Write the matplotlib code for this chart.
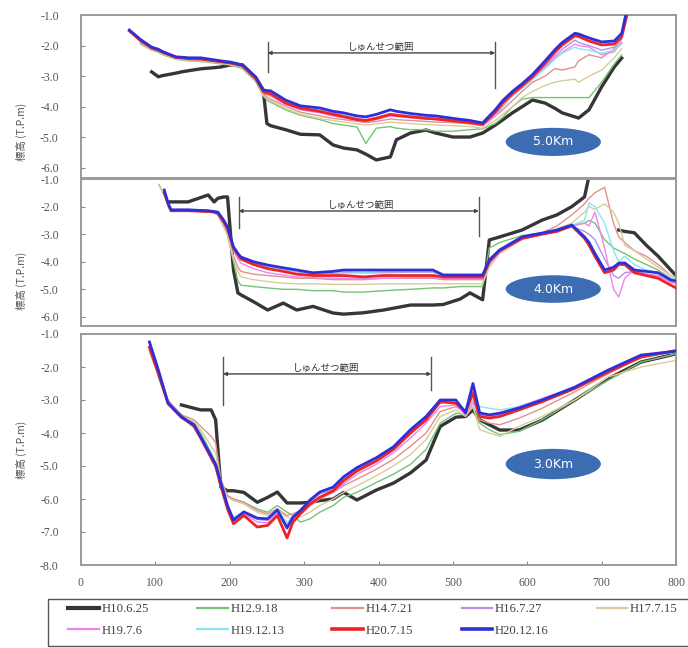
import numpy as np
import matplotlib
matplotlib.use("Agg")
import matplotlib.pyplot as plt
from matplotlib.patches import Ellipse, Rectangle
from matplotlib.lines import Line2D

plt.rcParams['axes.unicode_minus'] = False
nan = np.nan

labels = ['H10.6.25', 'H12.9.18', 'H14.7.21', 'H16.7.27', 'H17.7.15',
          'H19.7.6', 'H19.12.13', 'H20.7.15', 'H20.12.16']
colors = ['#363636', '#77c277', '#e2918a', '#b88fe6', '#d8cc9c',
          '#f084ef', '#86e6f2', '#ee2424', '#2f2fd8']
widths = [2.4, 1.0, 1.0, 1.0, 1.0, 1.0, 1.0, 2.0, 2.0]

# ---- 5.0 km section
x1 = [65, 80, 95, 104, 110, 128, 135, 145, 161, 180, 188, 201, 217, 235, 245, 250, 255, 275, 295, 321,
      339, 353, 371, 383, 397, 416, 424, 443, 464, 477, 500, 523, 540, 557, 567, 580, 593, 607, 624, 637,
      647, 664, 669, 683, 700, 717, 727, 736]
black1 = [nan, nan, -2.86, -3.02, -2.98, -2.90, -2.86, -2.82, -2.76, -2.72,
          -2.70, -2.63, -2.63, -3.05, -3.45, -4.55, -4.62, -4.75, -4.90, -4.92,
          -5.25, -5.35, -5.41, -5.55, -5.74, -5.64, -5.08, -4.86, -4.76, -4.86,
          -4.99, -4.99, -4.86, -4.60, -4.43, -4.20, -4.00, -3.78, -3.88, -4.05,
          -4.20, -4.33, -4.37, -4.10, -3.35, -2.70, -2.41, nan]
green1 = [nan, -1.95, -2.15, -2.22, -2.30, -2.45, -2.47, -2.50, -2.52, -2.57,
          -2.60, -2.64, -2.75, -3.18, -3.65, -3.78, -3.85, -4.10, -4.28, -4.42,
          -4.55, -4.60, -4.66, -5.20, -4.70, -4.65, -4.70, -4.75, -4.75, -4.80,
          -4.80, -4.75, -4.72, -4.55, -4.35, -4.00, -3.75, -3.70, -3.70, -3.70,
          -3.70, -3.70, -3.70, -3.70, -3.20, -2.60, -2.30, nan]
salmon1 = [nan, -1.90, -2.12, -2.18, -2.26, -2.42, -2.44, -2.46, -2.47, -2.53,
           -2.56, -2.60, -2.70, -3.12, -3.58, -3.68, -3.75, -3.98, -4.18, -4.30,
           -4.38, -4.42, -4.48, -4.52, -4.48, -4.40, -4.42, -4.45, -4.48, -4.50,
           -4.52, -4.56, -4.62, -4.30, -4.10, -3.80, -3.50, -3.20, -3.00, -2.75,
           -2.80, -2.70, -2.50, -2.30, -2.40, -2.10, -1.90, nan]
purple1 = [nan, -1.85, -2.07, -2.14, -2.22, -2.38, -2.40, -2.42, -2.43, -2.49,
           -2.52, -2.56, -2.65, -3.05, -3.48, -3.52, -3.55, -3.85, -4.02, -4.12,
           -4.22, -4.28, -4.38, -4.42, -4.35, -4.22, -4.25, -4.30, -4.35, -4.38,
           -4.44, -4.50, -4.56, -4.20, -3.92, -3.62, -3.36, -3.08, -2.68, -2.35,
           -2.12, -1.82, -1.90, -2.00, -2.15, -2.05, -1.80, nan]
tan1 = [nan, -1.92, -2.14, -2.20, -2.28, -2.44, -2.46, -2.48, -2.50, -2.55,
        -2.58, -2.62, -2.72, -3.15, -3.62, -3.72, -3.80, -4.05, -4.25, -4.38,
        -4.45, -4.50, -4.56, -4.60, -4.56, -4.50, -4.52, -4.55, -4.58, -4.60,
        -4.62, -4.65, -4.70, -4.45, -4.25, -4.00, -3.70, -3.50, -3.30, -3.20,
        -3.15, -3.10, -3.20, -3.00, -2.80, -2.40, -2.10, nan]
magenta1 = [nan, -1.88, -2.10, -2.16, -2.24, -2.40, -2.42, -2.44, -2.45, -2.51,
            -2.54, -2.58, -2.68, -3.10, -3.52, -3.60, -3.65, -3.92, -4.10, -4.20,
            -4.30, -4.36, -4.45, -4.50, -4.42, -4.30, -4.32, -4.36, -4.40, -4.42,
            -4.48, -4.55, -4.60, -4.30, -4.00, -3.65, -3.38, -3.10, -2.72, -2.42,
            -2.22, -1.95, -2.00, -2.05, -2.30, -2.20, -1.90, nan]
cyan1 = [nan, -1.83, -2.06, -2.13, -2.21, -2.38, -2.39, -2.41, -2.42, -2.48,
         -2.51, -2.55, -2.64, -3.06, -3.50, -3.56, -3.60, -3.88, -4.06, -4.14,
         -4.24, -4.30, -4.40, -4.44, -4.36, -4.24, -4.26, -4.31, -4.36, -4.39,
         -4.45, -4.51, -4.57, -4.22, -3.95, -3.66, -3.40, -3.12, -2.75, -2.45,
         -2.25, -2.05, -2.10, -2.15, -2.25, -2.15, -1.95, nan]
red1 = [-1.52, -1.84, -2.08, -2.15, -2.22, -2.39, -2.40, -2.43, -2.44, -2.50,
        -2.53, -2.57, -2.66, -3.08, -3.50, -3.55, -3.58, -3.88, -4.05, -4.15,
        -4.25, -4.32, -4.42, -4.45, -4.38, -4.25, -4.28, -4.33, -4.38, -4.40,
        -4.46, -4.52, -4.58, -4.18, -3.88, -3.58, -3.32, -3.02, -2.58, -2.22,
        -1.98, -1.68, -1.70, -1.85, -1.98, -1.95, -1.72, -0.80]
blue1 = [-1.49, -1.80, -2.05, -2.12, -2.20, -2.37, -2.38, -2.40, -2.40, -2.47,
         -2.50, -2.54, -2.63, -3.03, -3.45, -3.47, -3.48, -3.78, -3.97, -4.04,
         -4.15, -4.20, -4.30, -4.33, -4.25, -4.10, -4.15, -4.22, -4.28, -4.30,
         -4.38, -4.45, -4.53, -4.10, -3.80, -3.50, -3.25, -2.95, -2.50, -2.14,
         -1.90, -1.60, -1.62, -1.75, -1.88, -1.85, -1.60, -0.60]

# ---- 4.0 km section
x2 = [105, 112, 117, 121, 144, 171, 179, 184, 192, 197, 205, 211, 215, 232, 251, 272, 290, 312, 339, 353,
      380, 407, 443, 473, 487, 510, 523, 540, 549, 563, 593, 620, 640, 660, 677, 683, 691, 704, 716, 723,
      731, 744, 760, 776, 793, 800]
black2 = [nan, nan, -1.83, -1.83, -1.83, -1.58, -1.83, -1.70, -1.65, -1.65,
          -4.30, -5.13, -5.20, -5.45, -5.75, -5.50, -5.75, -5.62, -5.86, -5.90,
          -5.85, -5.75, -5.57, -5.57, -5.55, -5.35, -5.13, -5.38, -3.21, -3.10,
          -2.85, -2.49, -2.30, -2.00, -1.65, -0.90, nan, nan, nan, -2.85,
          -2.90, -2.95, -3.40, -3.80, -4.30, -4.50]
green2 = [nan, nan, -2.00, -2.15, -2.15, -2.20, -2.20, -2.25, -2.70, -3.00,
          -4.00, -4.70, -4.85, -4.90, -4.95, -5.00, -5.00, -5.05, -5.05, -5.10,
          -5.10, -5.05, -5.00, -4.95, -4.95, -4.90, -4.90, -4.90, -3.50, -3.30,
          -3.05, -2.95, -2.85, -2.70, -2.60, -2.50, -2.60, -3.20, -3.50, -3.60,
          -3.70, -3.90, -4.10, -4.30, -4.60, -4.70]
salmon2 = [-1.20, -1.60, -1.92, -2.10, -2.10, -2.15, -2.20, -2.30, -2.70, -3.00,
           -3.80, -4.20, -4.35, -4.45, -4.50, -4.55, -4.60, -4.60, -4.65, -4.65,
           -4.65, -4.60, -4.60, -4.60, -4.65, -4.65, -4.65, -4.65, -4.10, -3.60,
           -3.15, -2.95, -2.70, -2.30, -1.90, -1.70, -1.50, -1.30, -2.60, -3.10,
           -3.30, -3.60, -3.80, -4.10, -4.50, -4.60]
purple2 = [nan, -1.45, -1.88, -2.13, -2.13, -2.16, -2.19, -2.22, -2.52, -2.77,
           -3.48, -3.72, -3.86, -4.05, -4.18, -4.28, -4.36, -4.45, -4.42, -4.40,
           -4.40, -4.40, -4.38, -4.38, -4.50, -4.50, -4.50, -4.50, -3.96, -3.58,
           -3.12, -2.98, -2.88, -2.72, -2.90, -3.00, -3.20, -3.90, -4.50, -4.60,
           -4.40, -4.35, -4.45, -4.50, -4.75, -4.80]
tan2 = [-1.25, -1.55, -1.95, -2.12, -2.12, -2.18, -2.22, -2.32, -2.75, -3.05,
        -3.90, -4.35, -4.55, -4.65, -4.72, -4.78, -4.80, -4.80, -4.82, -4.82,
        -4.82, -4.80, -4.80, -4.80, -4.80, -4.80, -4.80, -4.80, -4.20, -3.70,
        -3.20, -3.00, -2.80, -2.60, -2.20, -2.00, -2.10, -1.90, -2.20, -2.60,
        -3.40, -3.60, -3.90, -4.20, -4.50, -4.60]
magenta2 = [nan, -1.50, -1.92, -2.16, -2.16, -2.19, -2.22, -2.28, -2.60, -2.85,
            -3.60, -3.90, -4.05, -4.25, -4.40, -4.48, -4.55, -4.58, -4.60, -4.60,
            -4.62, -4.60, -4.58, -4.58, -4.60, -4.60, -4.60, -4.60, -4.05, -3.65,
            -3.18, -3.02, -2.90, -2.70, -2.60, -2.70, -2.20, -3.50, -5.00, -5.28,
            -4.60, -4.30, -4.45, -4.55, -4.70, -4.80]
cyan2 = [nan, -1.45, -1.88, -2.13, -2.13, -2.16, -2.19, -2.22, -2.52, -2.76,
         -3.50, -3.78, -3.92, -4.08, -4.20, -4.28, -4.34, -4.40, -4.38, -4.36,
         -4.38, -4.36, -4.36, -4.36, -4.50, -4.50, -4.50, -4.50, -3.95, -3.58,
         -3.12, -2.97, -2.86, -2.68, -2.50, -1.87, -2.00, -2.60, -3.60, -4.00,
         -3.80, -4.10, -4.30, -4.40, -4.60, -4.60]
red2 = [nan, -1.50, -1.90, -2.15, -2.15, -2.18, -2.20, -2.25, -2.55, -2.80,
        -3.50, -3.75, -3.90, -4.10, -4.25, -4.35, -4.45, -4.50, -4.50, -4.50,
        -4.55, -4.50, -4.50, -4.50, -4.55, -4.55, -4.55, -4.55, -4.00, -3.60,
        -3.15, -3.00, -2.90, -2.70, -3.15, -3.40, -3.80, -4.40, -4.30, -4.10,
        -4.10, -4.40, -4.50, -4.60, -4.85, -4.95]
blue2 = [nan, -1.40, -1.87, -2.12, -2.12, -2.15, -2.18, -2.20, -2.50, -2.74,
         -3.46, -3.70, -3.83, -4.00, -4.12, -4.22, -4.30, -4.40, -4.35, -4.30,
         -4.30, -4.30, -4.30, -4.30, -4.48, -4.48, -4.48, -4.48, -3.93, -3.57,
         -3.10, -2.96, -2.85, -2.67, -3.10, -3.30, -3.70, -4.30, -4.20, -4.05,
         -4.04, -4.30, -4.35, -4.40, -4.66, -4.70]

# ---- 3.0 km section
x3 = [92, 104, 117, 135, 152, 161, 175, 181, 188, 197, 205, 219, 237, 251, 264, 277, 285, 295, 308, 321,
      339, 353, 371, 397, 420, 443, 464, 483, 504, 517, 527, 536, 549, 563, 589, 620, 664, 709, 753, 800]
black3 = [nan, nan, nan, -3.15, -3.25, -3.30, -3.30, -3.60, -5.64, -5.75,
          -5.75, -5.80, -6.10, -5.95, -5.79, -6.12, -6.12, -6.12, -6.10, -6.05,
          -6.00, -5.80, -6.03, -5.73, -5.52, -5.21, -4.82, -3.80, -3.52, -3.50,
          -3.30, -3.60, -3.75, -3.91, -3.91, -3.61, -3.00, -2.35, -1.85, -1.60]
green3 = [nan, -2.30, -3.10, -3.45, -3.70, -4.00, -4.60, -4.90, -5.70, -5.90,
          -6.00, -6.10, -6.30, -6.40, -6.20, -6.40, -6.50, -6.70, -6.60, -6.40,
          -6.20, -5.95, -5.80, -5.50, -5.25, -4.95, -4.50, -3.70, -3.40, -3.45,
          -3.20, -3.70, -3.90, -4.05, -3.95, -3.60, -3.00, -2.40, -1.85, -1.60]
salmon3 = [-1.50, -2.20, -3.00, -3.45, -3.60, -3.80, -4.10, -4.30, -5.40, -5.90,
           -6.00, -6.10, -6.35, -6.45, -6.30, -6.50, -6.45, -6.35, -6.20, -6.00,
           -5.80, -5.60, -5.40, -5.10, -4.80, -4.40, -4.00, -3.35, -3.20, -3.40,
           -3.00, -3.60, -3.70, -3.75, -3.55, -3.25, -2.75, -2.20, -1.70, -1.50]
purple3 = [-1.30, -2.15, -3.12, -3.55, -3.78, -4.15, -4.72, -4.98, -5.55, -6.25,
           -6.60, -6.45, -6.62, -6.65, -6.40, -6.80, -6.60, -6.40, -6.10, -5.85,
           -5.70, -5.40, -5.10, -4.80, -4.50, -4.00, -3.58, -3.10, -3.05, -3.40,
           -2.70, -3.45, -3.50, -3.45, -3.28, -3.05, -2.66, -2.14, -1.70, -1.55]
tan3 = [-1.55, -2.25, -3.05, -3.50, -3.65, -3.90, -4.40, -4.60, -5.50, -5.95,
        -6.05, -6.15, -6.40, -6.50, -6.35, -6.55, -6.60, -6.55, -6.40, -6.20,
        -6.00, -5.80, -5.60, -5.30, -5.00, -4.65, -4.20, -3.50, -3.30, -3.50,
        -3.20, -3.90, -4.00, -4.10, -3.80, -3.50, -3.00, -2.30, -2.00, -1.80]
magenta3 = [-1.45, -2.25, -3.15, -3.55, -3.82, -4.20, -4.78, -5.05, -5.62, -6.30,
            -6.55, -6.45, -6.70, -6.72, -6.45, -6.75, -6.60, -6.45, -6.20, -5.95,
            -5.80, -5.55, -5.25, -4.95, -4.60, -4.15, -3.70, -3.20, -3.15, -3.45,
            -3.10, -3.40, -3.50, -3.45, -3.20, -2.95, -2.62, -2.12, -1.68, -1.55]
cyan3 = [-1.35, -2.18, -3.12, -3.50, -3.72, -4.10, -4.68, -4.95, -5.55, -6.25,
         -6.55, -6.40, -6.60, -6.62, -6.35, -6.70, -6.55, -6.35, -6.05, -5.82,
         -5.68, -5.38, -5.08, -4.78, -4.45, -3.95, -3.55, -3.05, -3.05, -3.30,
         -3.00, -3.20, -3.25, -3.30, -3.20, -3.00, -2.60, -2.10, -1.65, -1.55]
red3 = [-1.40, -2.20, -3.10, -3.50, -3.80, -4.15, -4.75, -5.00, -5.60, -6.30,
        -6.75, -6.50, -6.85, -6.80, -6.50, -7.18, -6.70, -6.45, -6.15, -5.95,
        -5.75, -5.45, -5.15, -4.85, -4.50, -4.00, -3.60, -3.05, -3.10, -3.35,
        -2.80, -3.50, -3.55, -3.50, -3.30, -3.05, -2.65, -2.15, -1.70, -1.50]
blue3 = [-1.24, -2.09, -3.09, -3.52, -3.75, -4.12, -4.70, -4.95, -5.50, -6.20,
         -6.64, -6.39, -6.58, -6.60, -6.33, -6.88, -6.55, -6.35, -6.03, -5.79,
         -5.64, -5.33, -5.05, -4.75, -4.42, -3.90, -3.50, -3.00, -3.00, -3.39,
         -2.50, -3.39, -3.45, -3.40, -3.24, -3.00, -2.61, -2.09, -1.64, -1.52]

section_names = ['5.0Km', '4.0Km', '3.0Km']
dredge_ranges = [(251, 557), (212, 535), (191, 471)]

panels = [
    (x1, [black1, green1, salmon1, purple1, tan1, magenta1, cyan1, red1, blue1]),
    (x2, [black2, green2, salmon2, purple2, tan2, magenta2, cyan2, red2, blue2]),
    (x3, [black3, green3, salmon3, purple3, tan3, magenta3, cyan3, red3, blue3]),
]

W, H = 688, 648
fig = plt.figure(figsize=(W / 100, H / 100), dpi=100)

# pixel boxes: (top, bottom, ymin)
boxes = [(15, 178, -6.33), (179, 326, -6.33), (334, 565, -8.0)]
# bracket: (line y, bar top, left bar bottom, right bar bottom, text x)
brackets = [(-2.24, -1.88, -2.86, -3.40, 403),
            (-2.16, -1.65, -2.78, -3.05, 376),
            (-2.21, -1.70, -3.15, -2.70, 329)]
label_pos = [0.28, 0.31, 0.5]
ell = [(-5.15, 0.92), (-4.99, 1.0), (-4.94, 0.92)]

serif = 'Liberation Serif'
cjk = ['Noto Sans CJK JP', 'DejaVu Sans']
gray = '#555555'

for i, (xs, series) in enumerate(panels):
    top, bot, ymin = boxes[i]
    ax = fig.add_axes([81 / W, 1 - bot / H, 595 / W, (bot - top) / H])
    ax.set_facecolor('white')
    ax.set_xlim(0, 800)
    ax.set_ylim(ymin, -1.0)
    for k in range(9):
        ax.plot(xs, series[k], color=colors[k], lw=widths[k], zorder=2 + (k >= 7) + (k == 8))
    for s in ax.spines.values():
        s.set_color('#9a9a9a')
        s.set_linewidth(1.4)
    yt = np.arange(-1, -9 if i == 2 else -7, -1)
    ax.set_yticks(yt)
    ax.set_yticklabels(['%.1f' % v for v in yt], fontfamily=serif, fontsize=8.5, color=gray)
    ax.tick_params(direction='in', length=3, color='#888888')
    ax.tick_params(axis='y', pad=16)
    if i == 2:
        ax.set_xticks(range(0, 801, 100))
        ax.set_xticklabels([str(v) for v in range(0, 801, 100)], fontfamily=serif,
                           fontsize=8.5, color=gray)
        ax.tick_params(axis='x', pad=9)
    else:
        ax.tick_params(axis='x', bottom=False, labelbottom=False)
    ax.set_ylabel('標高 (T.P.m)', fontfamily=cjk, fontsize=7.5, color=gray)
    ax.yaxis.set_label_coords(-0.09, label_pos[i])

    # dredging range bracket
    xa, xb = dredge_ranges[i]
    yl, ytop, ybl, ybr, xtx = brackets[i]
    ax.plot([xa, xa], [ytop, ybl], color=gray, lw=1.0, zorder=5)
    ax.plot([xb, xb], [ytop, ybr], color=gray, lw=1.0, zorder=5)
    ax.annotate('', xy=(xa, yl), xytext=(xb, yl),
                arrowprops=dict(arrowstyle='<|-|>', color='#444444', lw=1.0, mutation_scale=5,
                                shrinkA=0, shrinkB=0), zorder=5)
    ax.annotate('しゅんせつ範囲', xy=(xtx, yl), xytext=(0, 0.5), textcoords='offset points',
                fontfamily=cjk, fontsize=6.8, color='#333333', ha='center', va='bottom', zorder=5)

    # section badge
    ey, eh = ell[i]
    ax.add_patch(Ellipse((635, ey), 128, eh, facecolor='#3c6db3', edgecolor='none', zorder=6))
    ax.text(635, ey, section_names[i], color='white', fontsize=9, ha='center', va='center',
            fontfamily='Liberation Sans Narrow', zorder=7)

# legend: frame drawn separately so it runs off the right edge like the source
fig.add_artist(Rectangle((48 / W, 2 / H), 660 / W, 47 / H, transform=fig.transFigure,
                         fill=False, edgecolor=gray, lw=1.0, clip_on=False))
order = [0, 5, 1, 6, 2, 7, 3, 8, 4]
handles = [Line2D([], [], color=colors[k], lw=widths[k] + 0.6) for k in order]
leg = fig.legend(handles, [labels[k] for k in order], ncol=5, loc='upper left',
                 bbox_to_anchor=(64 / W, 0, 618 / W, 49 / H), mode='expand',
                 frameon=False, borderaxespad=0, borderpad=0.35, labelspacing=0.72,
                 handlelength=2.4, handletextpad=0.2, prop={'family': serif, 'size': 9.2})
for t in leg.get_texts():
    t.set_color('#444444')

fig.savefig('out.png', dpi=100)
